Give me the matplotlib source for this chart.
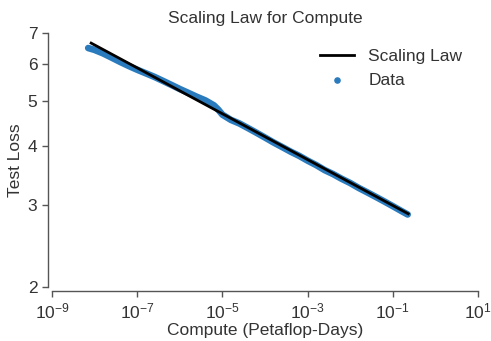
import matplotlib
matplotlib.use("Agg")
import matplotlib.pyplot as plt
import numpy as np

# Data
data_log10_compute = [-8.15, -8.0, -7.8, -7.6, -7.4, -7.2, -7.0, -6.8, -6.6, -6.4,
                      -6.2, -6.0, -5.8, -5.6, -5.4, -5.2, -5.1, -5.0, -4.8, -4.6,
                      -4.4, -4.2, -4.0, -3.8, -3.6, -3.4, -3.2, -3.0, -2.8, -2.6,
                      -2.4, -2.2, -2.0, -1.8, -1.6, -1.4, -1.2, -1.0, -0.8, -0.65]
data_loss = [6.50, 6.44, 6.33, 6.20, 6.07, 5.95, 5.84, 5.74, 5.64, 5.53,
             5.42, 5.31, 5.21, 5.11, 5.02, 4.90, 4.80, 4.68, 4.56, 4.48,
             4.38, 4.28, 4.18, 4.08, 3.99, 3.90, 3.82, 3.73, 3.65, 3.56,
             3.49, 3.41, 3.34, 3.26, 3.19, 3.12, 3.05, 2.98, 2.91, 2.86]

# Scaling law line endpoints
law_compute = [8.3e-9, 0.23]
law_loss = [6.66, 2.87]

y_ticks = [2, 3, 4, 5, 6, 7]
x_ticks = [1e-9, 1e-7, 1e-5, 1e-3, 1e-1, 1e1]

plt.rcParams['font.family'] = ['Liberation Sans', 'DejaVu Sans']
text_color = '#333333'
spine_color = '#555555'
fs = 12.5

fig = plt.figure(figsize=(4.91, 3.41), dpi=100)
ax = fig.add_axes([0.1059, 0.1584, 0.8676, 0.7448])

dx = 10 ** np.array(data_log10_compute)
blue = '#2a7bbd'
ax.plot(dx, data_loss, color=blue, lw=4.8, solid_capstyle='round',
        solid_joinstyle='round', zorder=2)
ax.plot(law_compute, law_loss, color='black', lw=2.0, zorder=3, label='Scaling Law')
ax.scatter([], [], color=blue, s=14, label='Data')

ax.set_xscale('log')
ax.set_yscale('log')
ax.set_xlim(1e-9, 1e1)
ax.set_ylim(2, 7)
ax.set_xticks(x_ticks)
ax.set_yticks(y_ticks)
ax.set_yticklabels([str(t) for t in y_ticks])
ax.minorticks_off()

for s in ['top', 'right']:
    ax.spines[s].set_visible(False)
for s in ['left', 'bottom']:
    ax.spines[s].set_color(spine_color)
    ax.spines[s].set_linewidth(1.0)
    ax.spines[s].set_position(('outward', 3))

ax.tick_params(axis='both', direction='out', length=4, width=1.0,
               color=spine_color, labelcolor=text_color, labelsize=fs)

ax.set_xlabel('Compute (Petaflop-Days)', fontsize=fs, color=text_color, labelpad=1)
ax.set_ylabel('Test Loss', fontsize=fs, color=text_color, labelpad=3)
ax.set_title('Scaling Law for Compute', fontsize=fs, color=text_color, pad=7)

leg = ax.legend(loc='upper right', frameon=False, fontsize=fs,
                bbox_to_anchor=(1.0, 1.0), handlelength=2.0, handletextpad=0.8,
                labelspacing=0.5)
for t in leg.get_texts():
    t.set_color(text_color)

fig.savefig('out.png', dpi=100)
